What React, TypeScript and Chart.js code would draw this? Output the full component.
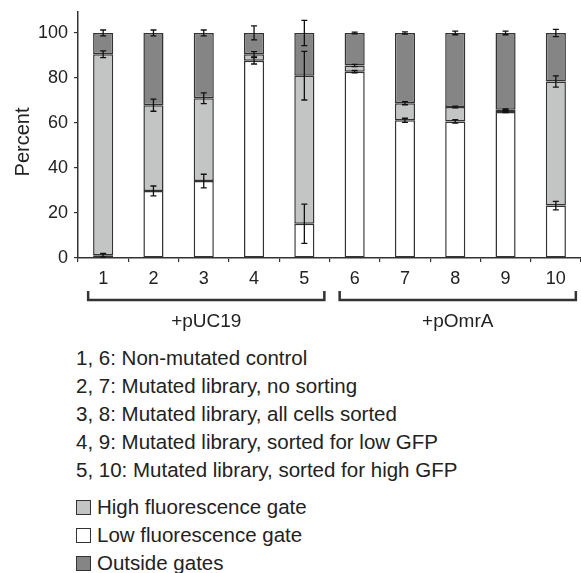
import React, { useEffect, useRef } from "react";
import { Chart, registerables } from "chart.js";

Chart.register(...registerables);

const categories = ["1", "2", "3", "4", "5", "6", "7", "8", "9", "10"];
const lowValues = [1.2, 29.8, 34.2, 87.6, 15.2, 82.8, 61.2, 60.7, 64.9, 23.3];
const highValues = [89.3, 38.1, 36.8, 2.9, 65.8, 2.7, 7.6, 6.4, 1.0, 55.1];
const outsideValues = [9.5, 32.1, 29.0, 9.5, 19.0, 14.5, 31.2, 32.9, 34.1, 21.6];
const lowErrors = [0.8, 2.2, 3.0, 1.4, 8.7, 0.5, 0.9, 0.8, 0.3, 1.9];
const highErrors = [1.5, 2.7, 2.4, 1.2, 10.8, 0.5, 0.7, 0.4, 0.3, 2.5];
const outsideErrors = [1.3, 1.3, 1.3, 3.1, 5.6, 0.4, 0.5, 0.8, 0.8, 1.6];
const yTicks = [0, 20, 40, 60, 80, 100];
const groupLabels = ["+pUC19", "+pOmrA"];
const groupStarts = [0, 5];
const groupEnds = [4, 9];
const notes = [
  "1, 6: Non-mutated control",
  "2, 7: Mutated library, no sorting",
  "3, 8: Mutated library, all cells sorted",
  "4, 9: Mutated library, sorted for low GFP",
  "5, 10: Mutated library, sorted for high GFP",
];
const legendLabels = ["High fluorescence gate", "Low fluorescence gate", "Outside gates"];

const FONT = "'Liberation Sans', Arial, Helvetica, sans-serif";
const TEXT = "#222";
const EDGE = "#333";
const LOW_COLOR = "#ffffff";
const HIGH_COLOR = "#c3c5c4";
const OUT_COLOR = "#858585";
const legendColors = [HIGH_COLOR, LOW_COLOR, OUT_COLOR];

const extrasPlugin = {
  id: "extras",
  afterDatasetsDraw(chart: any) {
    const ctx = chart.ctx;
    const y = chart.scales.y;
    const errs = [lowErrors, highErrors, outsideErrors];
    const vals = [lowValues, highValues, outsideValues];
    ctx.save();
    ctx.strokeStyle = "#111";
    ctx.lineWidth = 1.3;
    for (let d = 0; d < 3; d++) {
      const meta = chart.getDatasetMeta(d);
      meta.data.forEach((bar: any, j: number) => {
        let top = 0;
        for (let k = 0; k <= d; k++) top += vals[k][j];
        const e = errs[d][j];
        const y1 = y.getPixelForValue(top + e);
        const y2 = y.getPixelForValue(top - e);
        const x = bar.x;
        ctx.beginPath();
        ctx.moveTo(x, y1);
        ctx.lineTo(x, y2);
        ctx.moveTo(x - 3, y1);
        ctx.lineTo(x + 3, y1);
        ctx.moveTo(x - 3, y2);
        ctx.lineTo(x + 3, y2);
        ctx.stroke();
      });
    }
    ctx.restore();
  },
  afterDraw(chart: any) {
    const ctx = chart.ctx;
    const x = chart.scales.x;
    ctx.save();
    ctx.strokeStyle = EDGE;
    ctx.lineWidth = 2.5;
    ctx.fillStyle = TEXT;
    ctx.font = `19px ${FONT}`;
    ctx.textAlign = "center";
    ctx.textBaseline = "middle";
    groupLabels.forEach((label, g) => {
      const left = x.getPixelForValue(groupStarts[g]) - 15;
      const right = x.getPixelForValue(groupEnds[g]) + 20;
      ctx.beginPath();
      ctx.moveTo(left, 291);
      ctx.lineTo(left, 300);
      ctx.lineTo(right, 300);
      ctx.lineTo(right, 291);
      ctx.stroke();
      ctx.fillText(label, (left + right) / 2, 322);
    });
    // y axis title
    ctx.font = `20px ${FONT}`;
    ctx.translate(23, 142);
    ctx.rotate(-Math.PI / 2);
    ctx.fillText("Percent", 0, 0);
    ctx.restore();
  },
};

export default function App() {
  const ref = useRef<HTMLCanvasElement>(null);
  useEffect(() => {
    document.body.style.margin = "0";
    const chart = new Chart(ref.current!, {
      type: "bar",
      data: {
        labels: categories,
        datasets: [
          { label: "Low fluorescence gate", data: lowValues, backgroundColor: LOW_COLOR, borderColor: EDGE, borderWidth: 1.5, borderSkipped: false },
          { label: "High fluorescence gate", data: highValues, backgroundColor: HIGH_COLOR, borderColor: EDGE, borderWidth: 1.5, borderSkipped: false },
          { label: "Outside gates", data: outsideValues, backgroundColor: OUT_COLOR, borderColor: EDGE, borderWidth: 1.5, borderSkipped: false },
        ],
      },
      options: {
        responsive: false,
        animation: false,
        devicePixelRatio: 1,
        layout: { padding: { top: 12, left: 0, right: 0, bottom: 0 } },
        datasets: { bar: { categoryPercentage: 1, barPercentage: 0.4 } },
        plugins: { legend: { display: false }, tooltip: { enabled: false }, title: { display: false } },
        scales: {
          x: {
            stacked: true,
            grid: { display: true, drawOnChartArea: false, drawTicks: true, tickLength: 4, color: EDGE, lineWidth: 1.2, offset: true },
            border: { display: true, color: EDGE, width: 1.5 },
            ticks: { color: TEXT, font: { family: FONT, size: 18 }, padding: 6, maxRotation: 0 },
            afterFit: (s: any) => { s.height = 86; s.paddingLeft = 0; s.paddingRight = 0; },
          },
          y: {
            stacked: true,
            min: 0,
            max: 109.3,
            afterBuildTicks: (s: any) => { s.ticks = yTicks.map((v) => ({ value: v })); },
            grid: { display: true, drawOnChartArea: false, drawTicks: true, tickLength: 4, color: EDGE, lineWidth: 1.2 },
            border: { display: true, color: EDGE, width: 1.5 },
            ticks: { color: TEXT, font: { family: FONT, size: 18 }, padding: 6 },
            afterFit: (s: any) => { s.width = 78; s.paddingTop = 0; s.paddingBottom = 0; },
          },
        },
      },
      plugins: [extrasPlugin],
    });
    return () => chart.destroy();
  }, []);

  return (
    <div style={{ position: "relative", width: 581, height: 573, fontFamily: FONT, color: TEXT, overflow: "hidden" }}>
      <canvas ref={ref} width={581} height={344} style={{ display: "block", width: 581, height: 344 }} />
      <div style={{ position: "absolute", left: 76, top: 344, fontSize: 20.5, lineHeight: "28px" }}>
        {notes.map((n) => (
          <div key={n}>{n}</div>
        ))}
      </div>
      <div style={{ position: "absolute", left: 76, top: 493, fontSize: 20.5, lineHeight: "28px" }}>
        {legendLabels.map((l, i) => (
          <div key={l} style={{ display: "flex", alignItems: "center" }}>
            <span style={{ display: "inline-block", width: 13, height: 13, border: `1px solid ${EDGE}`, background: legendColors[i], marginRight: 6 }} />
            <span>{l}</span>
          </div>
        ))}
      </div>
    </div>
  );
}
